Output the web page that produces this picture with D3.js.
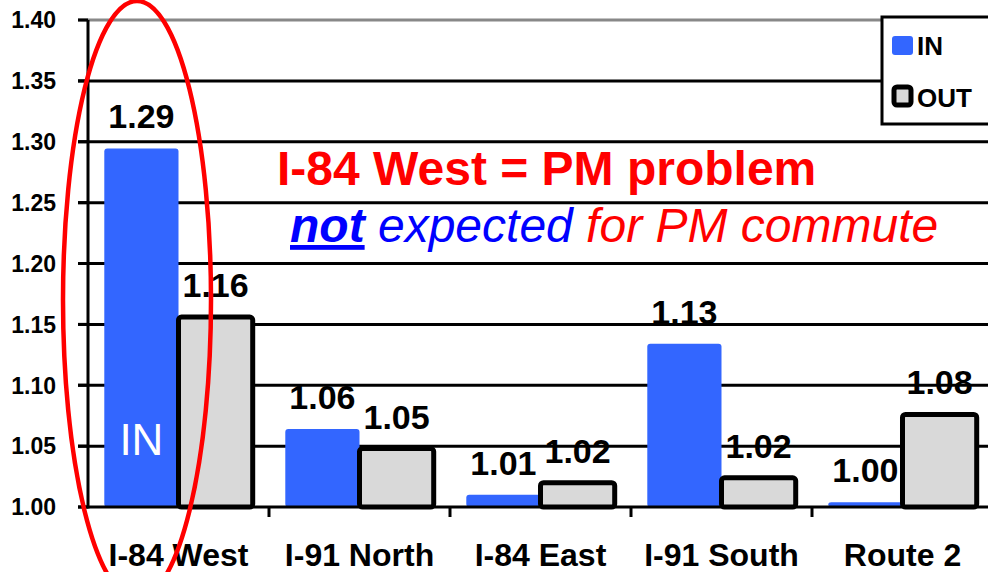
<!DOCTYPE html>
<meta charset="utf-8">
<style>
body { margin: 0; background: #fff; }
text { font-family: "Liberation Sans", Arial, sans-serif; }
.grid line { stroke: #000; stroke-width: 3px; }
.tick-label { font-size: 23px; font-weight: bold; }
.cat-label { font-size: 32px; font-weight: bold; }
.value { font-size: 34px; font-weight: bold; }
</style>
<svg width="988" height="572"></svg>
<script src="https://d3js.org/d3.v7.min.js"></script>
<script>
var categories = ["I-84 West", "I-91 North", "I-84 East", "I-91 South", "Route 2"],
    series = ["IN", "OUT"],
    inValues = [1.2945, 1.064, 1.010, 1.134, 1.004],
    outValues = [1.156, 1.048, 1.020, 1.024, 1.076],
    yTicks = [1.00, 1.05, 1.10, 1.15, 1.20, 1.25, 1.30, 1.35, 1.40];

var colors = {IN: "#3366ff", OUT: "#d9d9d9"};

var svg = d3.select("svg"),
    plotLeft = 88, plotRight = 993, plotTop = 20, plotBottom = 507;

var y = d3.scaleLinear().domain([1.0, 1.4]).range([plotBottom, plotTop]);
var x0 = d3.scaleBand().domain(categories).range([plotLeft, plotRight])
    .paddingInner(0.18).paddingOuter(0.09);
var x1 = d3.scaleBand().domain(series).range([0, x0.bandwidth()]);

var data = categories.map(function(c, i) {
  return {cat: c, values: [{s: "IN", v: inValues[i]}, {s: "OUT", v: outValues[i]}]};
});

// gridlines
svg.append("g").attr("class", "grid")
  .selectAll("line")
  .data(yTicks.slice(1))
  .enter().append("line")
    .attr("x1", plotLeft - 10)
    .attr("x2", 988)
    .attr("y1", function(d) { return y(d); })
    .attr("y2", function(d) { return y(d); })
    .style("stroke", function(d) { return d === 1.40 ? "#888" : "#000"; });

// y tick marks
svg.append("g").selectAll("line")
  .data(yTicks)
  .enter().append("line")
    .attr("x1", plotLeft - 10).attr("x2", plotLeft)
    .attr("y1", function(d) { return y(d); })
    .attr("y2", function(d) { return y(d); })
    .attr("stroke", "#000").attr("stroke-width", 3);

svg.append("g").selectAll("text")
  .data(yTicks)
  .enter().append("text")
    .attr("class", "tick-label")
    .attr("x", 56)
    .attr("y", function(d) { return y(d); })
    .attr("dy", "0.36em")
    .attr("text-anchor", "end")
    .text(d3.format(".2f"));

// bars
var groups = svg.append("g").selectAll("g")
  .data(data)
  .enter().append("g")
    .attr("transform", function(d) { return "translate(" + x0(d.cat) + ",0)"; });

groups.selectAll("rect")
  .data(function(d) { return d.values; })
  .enter().append("rect")
    .attr("x", function(d) { return x1(d.s); })
    .attr("y", function(d) { return y(d.v); })
    .attr("width", x1.bandwidth())
    .attr("height", function(d) { return plotBottom - y(d.v); })
    .attr("rx", 3)
    .attr("fill", function(d) { return colors[d.s]; })
    .attr("stroke", function(d) { return d.s === "OUT" ? "#000" : "none"; })
    .attr("stroke-width", 5);

groups.selectAll("text")
  .data(function(d) { return d.values; })
  .enter().append("text")
    .attr("class", "value")
    .attr("x", function(d) { return x1(d.s) + x1.bandwidth() / 2; })
    .attr("y", function(d) { return y(d.v) - 20; })
    .attr("text-anchor", "middle")
    .text(function(d) { return d3.format(".2f")(d.v); });

// axis lines
svg.append("line")
    .attr("x1", plotLeft).attr("x2", plotLeft).attr("y1", plotTop).attr("y2", plotBottom + 1.5)
    .attr("stroke", "#000").attr("stroke-width", 3);
svg.append("line")
    .attr("x1", plotLeft - 10).attr("x2", 988).attr("y1", plotBottom).attr("y2", plotBottom)
    .attr("stroke", "#000").attr("stroke-width", 3);

// category ticks between groups
svg.append("g").selectAll("line")
  .data(categories.slice(1))
  .enter().append("line")
    .attr("x1", function(d) { return x0(d) - x0.step() * 0.09; })
    .attr("x2", function(d) { return x0(d) - x0.step() * 0.09; })
    .attr("y1", plotBottom).attr("y2", plotBottom + 10)
    .attr("stroke", "#000").attr("stroke-width", 3);

svg.append("g").selectAll("text")
  .data(categories)
  .enter().append("text")
    .attr("class", "cat-label")
    .attr("x", function(d) { return x0(d) + x0.bandwidth() / 2; })
    .attr("y", 566)
    .attr("text-anchor", "middle")
    .text(function(d) { return d; });

// "IN" inside first bar
svg.append("text")
    .attr("x", x0(categories[0]) + x1("IN") + x1.bandwidth() / 2)
    .attr("y", 455)
    .attr("text-anchor", "middle")
    .attr("fill", "#fff")
    .style("font-size", "44px")
    .text("IN");

// annotation
svg.append("text")
    .attr("x", 277).attr("y", 185)
    .attr("fill", "#ff0000")
    .style("font-size", "48px").style("font-weight", "bold")
    .text("I-84 West = PM problem");

var note = svg.append("text")
    .attr("x", 290).attr("y", 242)
    .style("font-size", "48px").style("font-style", "italic");
note.append("tspan").attr("fill", "#0000ff").style("font-weight", "bold")
    .style("text-decoration", "underline").text("not");
note.append("tspan").attr("fill", "#0000ff").text(" expected");
note.append("tspan").attr("fill", "#ff0000").text(" for PM commute");

// legend
var legend = svg.append("g");
legend.append("rect")
    .attr("x", 882).attr("y", 17).attr("width", 130).attr("height", 107)
    .attr("fill", "#fff").attr("stroke", "#000").attr("stroke-width", 3);
legend.selectAll("rect.key")
  .data(series)
  .enter().append("rect")
    .attr("class", "key")
    .attr("x", function(d) { return d === "OUT" ? 894 : 892; })
    .attr("y", function(d, i) { return i ? 87 : 36; })
    .attr("width", function(d) { return d === "OUT" ? 17 : 21; })
    .attr("height", function(d) { return d === "OUT" ? 18 : 19; })
    .attr("rx", 3)
    .attr("fill", function(d) { return colors[d]; })
    .attr("stroke", function(d) { return d === "OUT" ? "#000" : "none"; })
    .attr("stroke-width", 5);
legend.selectAll("text")
  .data(series)
  .enter().append("text")
    .attr("x", 917)
    .attr("y", function(d, i) { return 55 + i * 52; })
    .style("font-size", "26px").style("font-weight", "bold")
    .text(function(d) { return d; });

// red ellipse highlighting I-84 West
svg.append("ellipse")
    .attr("cx", 137)
    .attr("cy", 300).attr("rx", 74).attr("ry", 299)
    .attr("fill", "none").attr("stroke", "#ff0000").attr("stroke-width", 4.5);
</script>
